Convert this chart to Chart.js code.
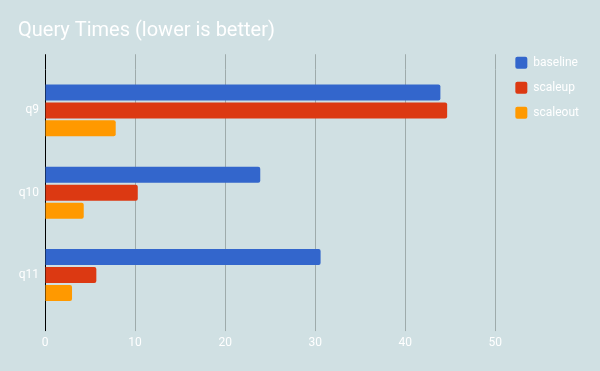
<!DOCTYPE html>
<html>
<head>
<meta charset="utf-8">
<script src="https://cdn.jsdelivr.net/npm/chart.js@4/dist/chart.umd.min.js"></script>
<style>
  html, body { margin: 0; padding: 0; background: #d0e0e3; }
  #wrap { width: 600px; height: 371px; }
</style>
</head>
<body>
<div id="wrap"><canvas id="queries"></canvas></div>
<script>
// values
const queries = ['q9', 'q10', 'q11'];
const baseline = [43.9, 23.9, 30.6];
const scaleup = [44.65, 10.3, 5.7];
const scaleout = [7.85, 4.3, 3.0];
const xTicks = [0, 10, 20, 30, 40, 50];

const white = '#ffffff';
const gridGrey = '#9eabab';
const font = { family: 'Roboto', size: 12 };

// zero line is black, the rest grey
const gridColor = (ctx) => (ctx.tick && ctx.tick.value === 0 ? '#000000' : gridGrey);

const bar = (label, data, color) => ({
  label: label,
  data: data,
  backgroundColor: color,
  borderWidth: 0,
  borderRadius: 2,
  categoryPercentage: 0.655,
  barPercentage: 0.889
});

const config = {
  type: 'bar',
  data: {
    labels: queries,
    datasets: [
      bar('baseline', baseline, '#3366cc'),
      bar('scaleup', scaleup, '#dc3912'),
      bar('scaleout', scaleout, '#ff9900')
    ]
  },
  options: {
    indexAxis: 'y',
    responsive: true,
    maintainAspectRatio: false,
    animation: false,
    layout: { padding: { left: 18, right: 11, top: 0, bottom: 15.5 } },
    scales: {
      x: {
        type: 'linear',
        min: 0,
        max: 50,
        afterBuildTicks: (s) => { s.ticks = xTicks.map(v => ({ value: v })); },
        grid: { color: gridColor, tickLength: 15, drawTicks: true },
        border: { display: false },
        ticks: { color: white, font: font, padding: 5 }
      },
      // only here so the grid lines run up past the first bar group
      xTop: {
        type: 'linear',
        position: 'top',
        min: 0,
        max: 50,
        afterBuildTicks: (s) => { s.ticks = xTicks.map(v => ({ value: v })); },
        grid: { color: gridColor, tickLength: 15, drawOnChartArea: false },
        border: { display: false },
        ticks: { display: false }
      },
      y: {
        grid: { display: false, drawTicks: false },
        border: { display: false },
        ticks: { color: white, font: font, padding: 6 },
        afterFit: (s) => { s.width = 27; }
      },
      // small spacer between plot and legend
      yRight: {
        type: 'linear',
        position: 'right',
        grid: { display: false },
        border: { display: false },
        ticks: { display: false },
        afterFit: (s) => { s.width = 7; }
      }
    },
    plugins: {
      title: {
        display: true,
        text: 'Query Times (lower is better)',
        align: 'start',
        color: white,
        font: { family: 'Roboto', size: 20, weight: 'normal', lineHeight: 1.2 },
        padding: { top: 18.5, bottom: 11.75 }
      },
      legend: {
        position: 'right',
        align: 'start',
        title: { display: true, text: '', font: { size: 12, lineHeight: 1 }, padding: { top: 31.7, bottom: 0 } },
        labels: {
          color: white,
          font: font,
          boxWidth: 12,
          boxHeight: 12,
          padding: 13,
          useBorderRadius: true,
          borderRadius: 2
        }
      },
      tooltip: { enabled: false }
    }
  }
};

new Chart(document.getElementById('queries'), config);
</script>
</body>
</html>
